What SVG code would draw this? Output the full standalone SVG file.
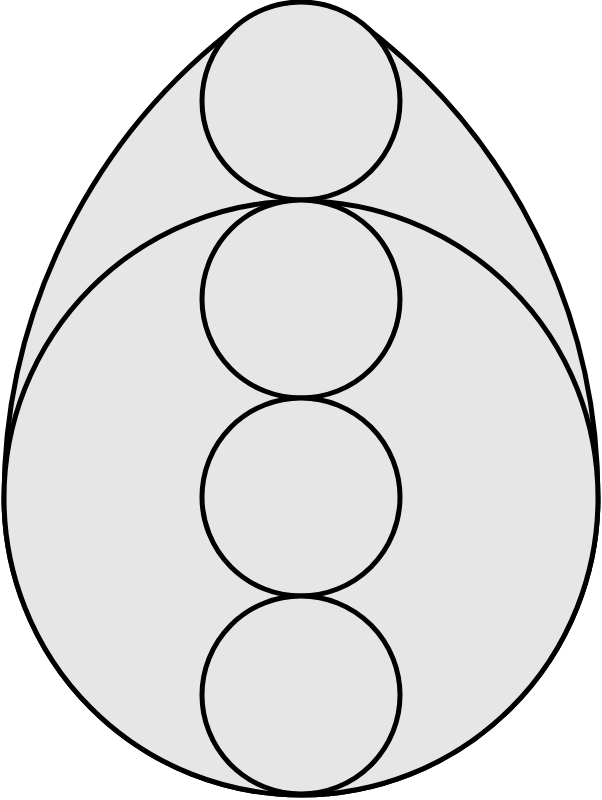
<svg xmlns="http://www.w3.org/2000/svg" width="602" height="800" viewBox="0 0 602 800">
<style>
.s{fill:#e6e6e6;stroke:#000;stroke-width:5}
</style>
<rect width="602" height="800" fill="#fff"/>
<g id="egg"><path class="s" d="M 4 498 A 594 594 0 0 1 242.2 22.4 A 99 99 0 0 1 359.8 22.4 A 594 594 0 0 1 598 498 A 297 297 0 0 1 4 498 Z"/></g>
<g id="big"><circle class="s" cx="301" cy="498" r="297"/></g>
<g id="c1"><circle class="s" cx="301" cy="101" r="99"/></g>
<g id="c2"><circle class="s" cx="301" cy="299" r="99"/></g>
<g id="c3"><circle class="s" cx="301" cy="497" r="99"/></g>
<g id="c4"><circle class="s" cx="301" cy="695" r="99"/></g>
</svg>
